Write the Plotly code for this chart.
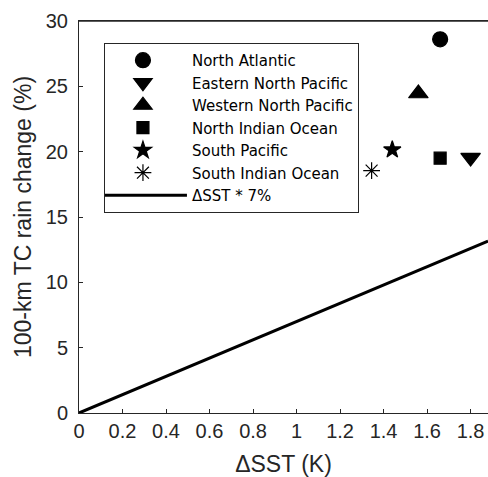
import plotly.graph_objects as go

basins = ["North Atlantic", "Eastern North Pacific", "Western North Pacific",
          "North Indian Ocean", "South Pacific", "South Indian Ocean"]
dsst = [1.66, 1.80, 1.56, 1.66, 1.44, 1.345]
rain_change = [28.6, 19.55, 24.45, 19.5, 20.15, 18.55]
symbols = ["circle", "triangle-down", "triangle-up", "square", "star", "asterisk-open"]
sizes = [15, 17, 17, 12, 13, 14]

line_x = [0, 1.88]
scaling = 7  # % per K
xticks = [0, 0.2, 0.4, 0.6, 0.8, 1, 1.2, 1.4, 1.6, 1.8]
xtick_labels = ["0", "0.2", "0.4", "0.6", "0.8", "1", "1.2", "1.4", "1.6", "1.8"]
yticks = [0, 5, 10, 15, 20, 25, 30]

fig = go.Figure()
for name, x, y, s, sz in zip(basins, dsst, rain_change, symbols, sizes):
    fig.add_trace(go.Scatter(
        x=[x], y=[y], mode="markers", name=name,
        marker=dict(symbol=s, size=sz, color="black",
                    line=dict(color="black", width=1.2)),
    ))
fig.add_trace(go.Scatter(
    x=line_x, y=[v * scaling for v in line_x], mode="lines",
    name="ΔSST * 7%", line=dict(color="black", width=3),
))

axis_color = "#262626"
fig.update_layout(
    width=488, height=477,
    margin=dict(l=79, r=0, t=21, b=64),
    plot_bgcolor="white", paper_bgcolor="white",
    font=dict(family="Liberation Sans, Arial, sans-serif", size=19, color="#262626"),
    showlegend=True,
    legend=dict(
        x=0.061, y=0.944, xanchor="left", yanchor="top",
        bgcolor="white", bordercolor=axis_color, borderwidth=1,
        font=dict(family="DejaVu Sans, sans-serif", size=15, color="black"),
        itemwidth=88, indentation=-11,
        tracegroupgap=0,
    ),
)
# top frame line of the axes box
fig.add_shape(type="line", xref="paper", yref="paper", x0=0, x1=1, y0=1, y1=1,
              layer="above", line=dict(color=axis_color, width=1.3))
fig.update_xaxes(
    range=[0, 1.88], tickvals=xticks, ticktext=xtick_labels,
    ticks="inside", ticklen=4, tickcolor=axis_color,
    showline=True, linecolor=axis_color, linewidth=1, mirror=True,
    showgrid=False, zeroline=False, automargin=False,
    tickfont=dict(size=20),
    title=dict(text="ΔSST (K)", standoff=14),
)
fig.update_yaxes(
    range=[0, 30], tickvals=yticks,
    ticks="inside", ticklen=4, tickcolor=axis_color,
    showline=True, linecolor=axis_color, linewidth=1, mirror=False,
    showgrid=False, zeroline=False, automargin=False,
    tickfont=dict(size=20),
    title=dict(text="100-km TC rain change (%)", standoff=7),
    ticklabelstandoff=6,
)

fig.write_html(
    "out.html",
    config={"displayModeBar": False},
    post_script="document.body.style.margin='0';document.body.style.overflow='hidden';",
)
